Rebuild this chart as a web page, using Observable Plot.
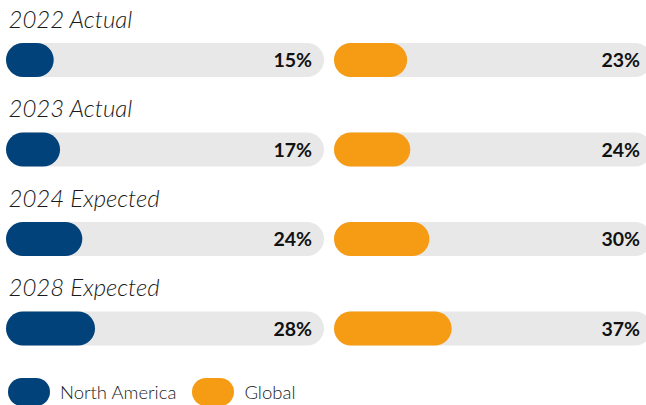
<!DOCTYPE html>
<html>
<head>
<meta charset="utf-8">
<script src="https://cdn.jsdelivr.net/npm/d3@7"></script>
<script src="https://cdn.jsdelivr.net/npm/@observablehq/plot@0.6"></script>
<style>
  html, body { margin: 0; padding: 0; background: #fff; overflow: hidden; }
  body { width: 646px; font-family: Lato, "Open Sans", sans-serif; }
  #legend { display: flex; align-items: center; height: 32px; margin-top: 18px; padding-left: 8px; font-size: 18.5px; color: #222; font-weight: 300; }
  .sw { width: 42px; height: 28px; border-radius: 14px; display: inline-block; margin-right: 10px; }
  .item { display: flex; align-items: center; margin-right: 16px; }
</style>
</head>
<body>
<div id="chart"></div>
<div id="legend"></div>
<script>
const periods = ["2022 Actual", "2023 Actual", "2024 Expected", "2028 Expected"];
const regions = ["North America", "Global"];
const northAmerica = [15, 17, 24, 28];
const global = [23, 24, 30, 37];
const colors = ["#02427a", "#f59c14"];

const data = [];
periods.forEach((p, i) => {
  data.push({period: p, region: "North America", value: northAmerica[i]});
  data.push({period: p, region: "Global", value: global[i]});
});
const titles = periods.map(p => ({period: p, region: "North America", label: p}));

const chart = Plot.plot({
  width: 646,
  height: 358,
  marginTop: 0,
  marginBottom: 0,
  marginLeft: 6,
  marginRight: -6,
  style: {fontFamily: "Lato, 'Open Sans', sans-serif", background: "#fff", overflow: "hidden"},
  x: {domain: [0, 100], axis: null},
  fx: {domain: regions, axis: null, paddingInner: 0.0305, paddingOuter: 0, round: false},
  fy: {domain: periods, axis: null, padding: 0, round: false},
  color: {domain: regions, range: colors},
  marks: [
    Plot.barX(data, {fx: "region", fy: "period", x1: 0, x2: 100, fill: "#e8e8e8", rx: 17, ry: 17, insetTop: 43, insetBottom: 12.5}),
    Plot.barX(data, {fx: "region", fy: "period", x1: 0, x2: "value", fill: "region", rx: 17, ry: 17, insetTop: 43, insetBottom: 12.5}),
    Plot.text(data, {fx: "region", fy: "period", x: 100, text: d => d.value + "%", textAnchor: "end", dx: -12.5, dy: 15.5, fontSize: 19.5, fontWeight: 700, fill: "#111"}),
    Plot.text(titles, {fx: "region", fy: "period", text: "label", frameAnchor: "top-left", lineAnchor: "bottom", dy: 27, dx: 2, fontSize: 24, fontWeight: 300, fontStyle: "italic", fill: "#1a1a1a"})
  ]
});
document.getElementById("chart").appendChild(chart);

const legend = document.getElementById("legend");
regions.forEach((r, i) => {
  const item = document.createElement("div");
  item.className = "item";
  const sw = document.createElement("span");
  sw.className = "sw";
  sw.style.background = colors[i];
  const t = document.createElement("span");
  t.textContent = r;
  item.appendChild(sw);
  item.appendChild(t);
  legend.appendChild(item);
});
</script>
</body>
</html>
